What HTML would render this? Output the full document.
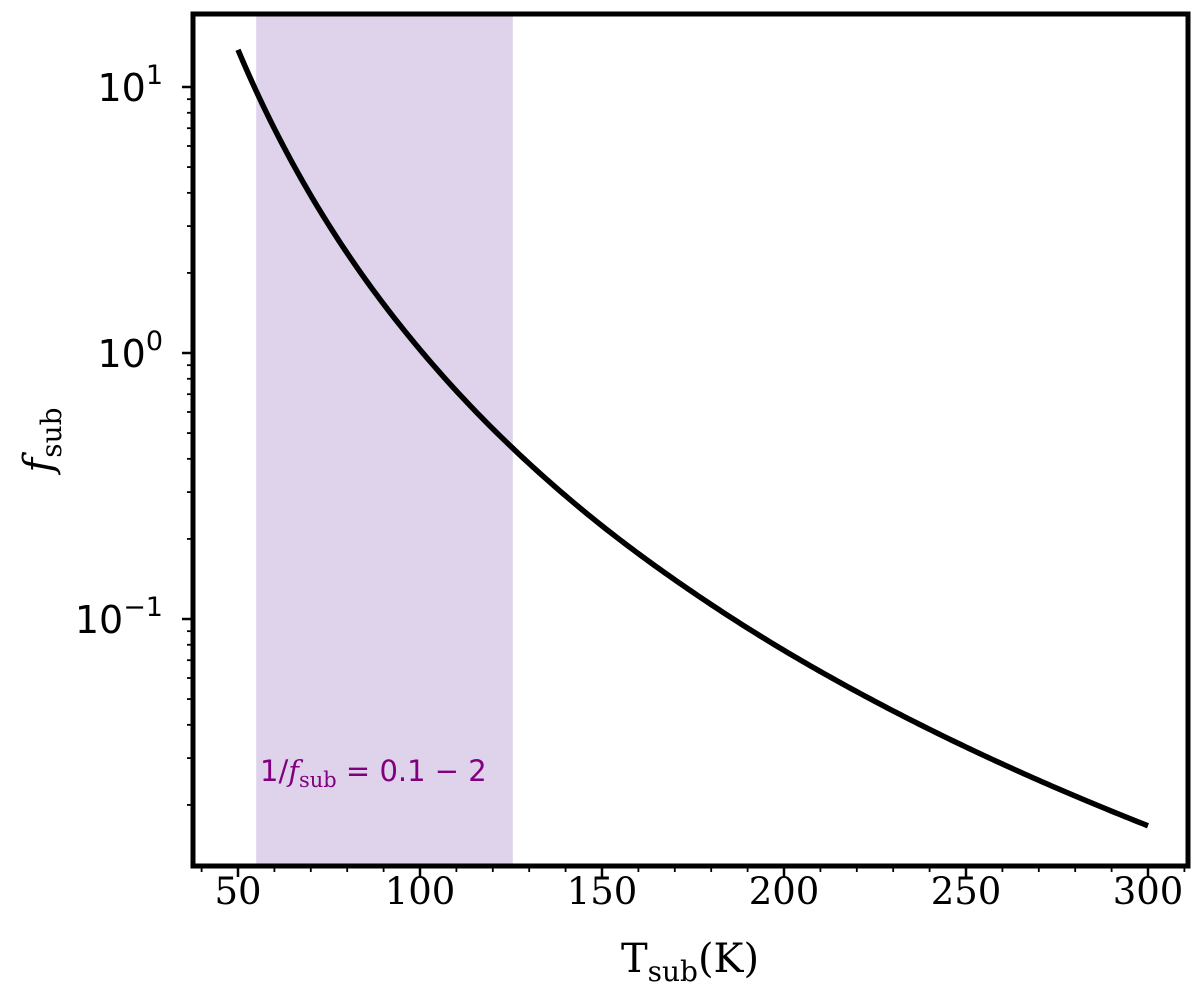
<!DOCTYPE html>
<html><head><meta charset="utf-8"><style>
html,body{margin:0;padding:0;background:#fff;}
svg{display:block;}
</style></head><body>
<svg id="chart" width="1200" height="985" xmlns="http://www.w3.org/2000/svg">
<g id="g"></g>
<text x="690" y="972" text-anchor="middle" font-family="DejaVu Serif, Liberation Serif, serif" font-size="40">T<tspan font-size="28" dy="9">sub</tspan><tspan dy="-9">(K)</tspan></text>
<text transform="translate(52,440) rotate(-90)" text-anchor="middle" font-family="DejaVu Serif, Liberation Serif, serif" font-size="40"><tspan font-style="italic">f</tspan><tspan font-size="28" dy="9">sub</tspan></text>
<text x="260" y="781" fill="#800080" font-family="DejaVu Sans, Liberation Sans, sans-serif" font-size="29">1/<tspan font-family="DejaVu Serif, serif" font-style="italic">f</tspan><tspan font-family="DejaVu Serif, serif" font-size="21" dy="6">sub</tspan><tspan dy="-6"> = 0.1 − 2</tspan></text>
</svg>
<script>
const temps = [50,60,75,100,125,150,175,200,225,250,275,300];
const fsub = [13.8,6.97,3.02,1.03,0.445,0.224,0.126,0.0762,0.049,0.033,0.0231,0.0167];
const xTicks = [50,100,150,200,250,300];
const yTickExps = [1,0,-1];
const bandRange = [55,125.5];

const NS='http://www.w3.org/2000/svg';
const g=document.getElementById('g');
const L=193,R=1188,T=14,B=866;
function xs(t){return 238+(t-50)*3.64;}
function ys(v){return 353-266*Math.log10(v);}
function el(tag,attrs,text){const e=document.createElementNS(NS,tag);for(const k in attrs)e.setAttribute(k,attrs[k]);if(text!==undefined)e.textContent=text;g.appendChild(e);return e;}

const band=el('rect',{x:xs(bandRange[0]),y:T,width:xs(bandRange[1])-xs(bandRange[0]),height:B-T,fill:'#dfd2eb'});



let d='';
for(let i=0;i<temps.length-1;i++){
 const lt0=Math.log(temps[i]),lt1=Math.log(temps[i+1]);
 const lf0=Math.log(fsub[i]),lf1=Math.log(fsub[i+1]);
 for(let s=0;s<=20;s++){
  if(i>0&&s===0)continue;
  const u=s/20;
  const t=Math.exp(lt0+(lt1-lt0)*u), f=Math.exp(lf0+(lf1-lf0)*u);
  d+=(d?' L':'M')+xs(t).toFixed(2)+','+ys(f).toFixed(2);
 }
}
const curve=el('path',{d:d,fill:'none',stroke:'#000','stroke-width':5.5});



const frame=el('rect',{x:L,y:T,width:R-L,height:B-T,fill:'none',stroke:'#000','stroke-width':5});



for(let t=40;t<=310;t+=10){
 const major=xTicks.includes(t);
 const tk=el('line',{x1:xs(t),x2:xs(t),y1:B,y2:B+(major?11:6),stroke:'#000','stroke-width':major?2.5:1.8});
 
 
}
xTicks.forEach(t=>{
 const lb=el('text',{x:xs(t),y:B+35+3,'text-anchor':'middle','font-family':'DejaVu Serif, Liberation Serif, serif','font-size':37},String(t));
 
 
});
for(let e=-2;e<=1;e++){
 for(let m=1;m<10;m++){
  const v=m*Math.pow(10,e), y=ys(v);
  if(y<T||y>B)continue;
  const tk=el('line',{x1:L,x2:L-(m===1?11:6),y1:y,y2:y,stroke:'#000','stroke-width':m===1?2.5:1.8});
  
  
 }
}
yTickExps.forEach(e=>{
 const t=el('text',{x:163,y:ys(Math.pow(10,e))+14,'text-anchor':'end','font-family':'DejaVu Sans, Liberation Sans, sans-serif','font-size':38});
 
 
 const a=document.createElementNS(NS,'tspan');a.textContent='10';t.appendChild(a);
 const b=document.createElementNS(NS,'tspan');b.setAttribute('dy',-17);b.setAttribute('font-size',27);b.textContent=(e<0?'\u2212':'')+Math.abs(e);t.appendChild(b);
});
</script>
</body></html>
